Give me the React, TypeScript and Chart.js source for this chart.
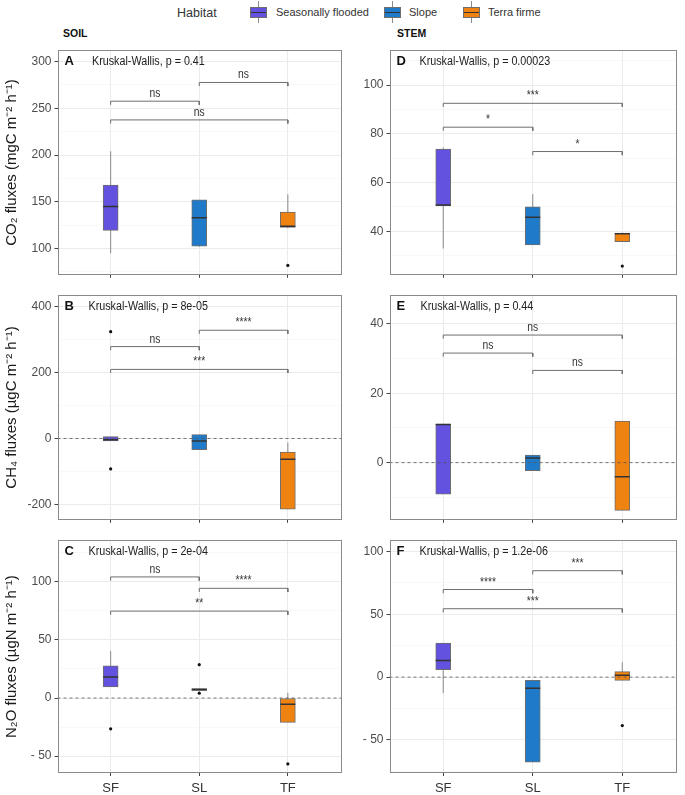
import React, { useEffect, useRef } from 'react';
import { Chart, registerables } from 'chart.js';
Chart.register(...registerables);

const FONT = '"Liberation Sans", Arial, sans-serif';
const SQUEEZE = 0.86;

const categories = ['SF', 'SL', 'TF'];
const habitats = ['Seasonally flooded', 'Slope', 'Terra firme'];
const habitatColors = ['#6252DF', '#1F7BCA', '#EE8312'];
const bracketPairs = [[0, 1], [1, 2], [0, 2]];

// A – soil CO2 (mgC m-2 h-1)
const soilCo2Min = [95, 102, 122];
const soilCo2Q1 = [119.5, 102.5, 122.5];
const soilCo2Med = [145, 133, 124];
const soilCo2Q3 = [168, 152, 139];
const soilCo2Max = [204, 152, 158];
const soilCo2Out = [[], [], [82]];
const soilCo2BracketY = [257.5, 277.5, 237.5];
const soilCo2BracketLbl = ['ns', 'ns', 'ns'];

// B – soil CH4 (µgC m-2 h-1)
const soilCh4Min = [-7.5, -34, -214];
const soilCh4Q1 = [-7.5, -34, -214];
const soilCh4Med = [-4, -7.5, -63];
const soilCh4Q3 = [5.5, 11.5, -41];
const soilCh4Max = [5.5, 11.5, -12];
const soilCh4Out = [[323, -92], [], []];
const soilCh4BracketY = [278, 327.5, 209];
const soilCh4BracketLbl = ['ns', '****', '***'];

// C – soil N2O (µgN m-2 h-1)
const soilN2oMin = [9.5, 6.4, -21];
const soilN2oQ1 = [9.5, 6.4, -21];
const soilN2oMed = [18.2, 7.5, -5.3];
const soilN2oQ3 = [27.7, 8, 0];
const soilN2oMax = [40.5, 8, 4.5];
const soilN2oOut = [[-26.5], [28.7, 4.2], [-56.7]];
const soilN2oBracketY = [104.2, 94.4, 74.8];
const soilN2oBracketLbl = ['ns', '****', '**'];

// D – stem CO2
const stemCo2Min = [32.9, 34.4, 35.7];
const stemCo2Q1 = [50.4, 34.4, 35.7];
const stemCo2Med = [50.8, 45.7, 39];
const stemCo2Q3 = [73.7, 50, 39.2];
const stemCo2Max = [74.3, 55.2, 39.4];
const stemCo2Out = [[], [], [25.7]];
const stemCo2BracketY = [82.7, 72.7, 92.5];
const stemCo2BracketLbl = ['*', '*', '***'];

// E – stem CH4
const stemCh4Min = [-9.1, -2.3, -13.8];
const stemCh4Q1 = [-9.1, -2.3, -13.8];
const stemCh4Med = [11, 1.3, -4.1];
const stemCh4Q3 = [11.1, 2.2, 12];
const stemCh4Max = [11.1, 2.2, 12];
const stemCh4Out = [[], [], []];
const stemCh4BracketY = [31.6, 26.6, 36.8];
const stemCh4BracketLbl = ['ns', 'ns', 'ns'];

// F – stem N2O
const stemN2oMin = [-12.7, -67.8, -2.6];
const stemN2oQ1 = [5.9, -67.8, -2.6];
const stemN2oMed = [13.2, -8.8, 1.5];
const stemN2oQ3 = [27.2, -2.6, 4.4];
const stemN2oMax = [27.2, -2.6, 11.9];
const stemN2oOut = [[], [], [-38.6]];
const stemN2oBracketY = [69.8, 84.8, 54.5];
const stemN2oBracketLbl = ['****', '***', '***'];

const panels = [
  { letter: 'A', kw: '0.41', col: 0, row: 0, title: 'CO\u2082 fluxes (mgC m\u207B\u00B2 h\u207B\u00B9)', yMin: 72, yMax: 312, step: 25, labelStep: 50, zero: false, minusSpace: false, kwOffset: 34.5,
    min: soilCo2Min, q1: soilCo2Q1, med: soilCo2Med, q3: soilCo2Q3, max: soilCo2Max, out: soilCo2Out, by: soilCo2BracketY, bl: soilCo2BracketLbl },
  { letter: 'B', kw: '8e-05', col: 0, row: 1, title: 'CH\u2084 fluxes (\u00B5gC m\u207B\u00B2 h\u207B\u00B9)', yMin: -246, yMax: 433.5, step: 100, labelStep: 200, zero: true, minusSpace: false, kwOffset: 31,
    min: soilCh4Min, q1: soilCh4Q1, med: soilCh4Med, q3: soilCh4Q3, max: soilCh4Max, out: soilCh4Out, by: soilCh4BracketY, bl: soilCh4BracketLbl },
  { letter: 'C', kw: '2e-04', col: 0, row: 2, title: 'N\u2082O fluxes (\u00B5gN m\u207B\u00B2 h\u207B\u00B9)', yMin: -64.5, yMax: 135.8, step: 25, labelStep: 50, zero: true, minusSpace: true, kwOffset: 31,
    min: soilN2oMin, q1: soilN2oQ1, med: soilN2oMed, q3: soilN2oQ3, max: soilN2oMax, out: soilN2oOut, by: soilN2oBracketY, bl: soilN2oBracketLbl },
  { letter: 'D', kw: '0.00023', col: 1, row: 0, title: '', yMin: 22.1, yMax: 114.3, step: 10, labelStep: 20, zero: false, minusSpace: false, kwOffset: 30,
    min: stemCo2Min, q1: stemCo2Q1, med: stemCo2Med, q3: stemCo2Q3, max: stemCo2Max, out: stemCo2Out, by: stemCo2BracketY, bl: stemCo2BracketLbl },
  { letter: 'E', kw: '0.44', col: 1, row: 1, title: '', yMin: -16.5, yMax: 48.3, step: 10, labelStep: 20, zero: true, minusSpace: false, kwOffset: 31,
    min: stemCh4Min, q1: stemCh4Q1, med: stemCh4Med, q3: stemCh4Q3, max: stemCh4Max, out: stemCh4Out, by: stemCh4BracketY, bl: stemCh4BracketLbl },
  { letter: 'F', kw: '1.2e-06', col: 1, row: 2, title: '', yMin: -76.4, yMax: 109.1, step: 25, labelStep: 50, zero: true, minusSpace: true, kwOffset: 30,
    min: stemN2oMin, q1: stemN2oQ1, med: stemN2oMed, q3: stemN2oQ3, max: stemN2oMax, out: stemN2oOut, by: stemN2oBracketY, bl: stemN2oBracketLbl },
];

const colLeft = [0, 350];
const colWidth = [350, 335];
const rowTop = [40, 285, 530];
const rowHeight = [245, 245, 265];

function isMajor(v: number, labelStep: number) {
  const r = v / labelStep;
  return Math.abs(r - Math.round(r)) < 1e-6;
}

function Panel({ p }: { p: any }) {
  const ref = useRef<HTMLCanvasElement>(null);
  useEffect(() => {
    const canvas = ref.current!;
    const isLeft = p.col === 0;
    const isBottom = p.row === 2;
    const yAxisW = isLeft ? 57.5 : 39.5;
    const xAxisH = isBottom ? 22 : 4;
    const tip = (p.yMax - p.yMin) * 0.016;
    const datasets: any[] = [];
    categories.forEach((c, i) => {
      datasets.push({ type: 'line', data: [{ x: i, y: p.min[i] }, { x: i, y: p.max[i] }], borderColor: '#8a8a8a', borderWidth: 1, pointRadius: 0, order: 6 });
    });
    datasets.push({
      type: 'bar', label: 'box',
      data: categories.map((c, i) => ({ x: i, y: [p.q1[i], p.q3[i]] })),
      backgroundColor: habitatColors, borderColor: '#6e6e6e', borderWidth: 1, borderSkipped: false,
      barThickness: 15, grouped: false, order: 5,
    });
    datasets.push({
      type: 'scatter', data: categories.map((c, i) => ({ x: i, y: p.med[i] })),
      pointStyle: 'line', pointRadius: 7.5, borderColor: '#333', pointBorderColor: '#333', borderWidth: 1.5, pointBorderWidth: 1.5, order: 4,
    });
    const outs: any[] = [];
    p.out.forEach((arr: number[], i: number) => arr.forEach((v) => outs.push({ x: i, y: v })));
    datasets.push({ type: 'scatter', data: outs, pointRadius: 1.6, pointBackgroundColor: '#111', backgroundColor: '#111', pointBorderWidth: 0, borderWidth: 0, order: 3 });
    if (p.zero) {
      datasets.push({ type: 'line', data: [{ x: -0.6, y: 0 }, { x: 2.6, y: 0 }], borderColor: '#555', borderWidth: 0.8, borderDash: [3, 3], pointRadius: 0, order: 2 });
    }
    bracketPairs.forEach(([a, b], k) => {
      const by = p.by[k];
      datasets.push({ type: 'line', data: [{ x: a, y: by - tip }, { x: a, y: by }, { x: b, y: by }, { x: b, y: by - tip }], borderColor: '#6e6e6e', borderWidth: 1, pointRadius: 0, order: 1 });
    });

    const yTicks: number[] = [];
    for (let v = Math.ceil(p.yMin / p.step) * p.step; v <= p.yMax + 1e-9; v += p.step) yTicks.push(v);

    const overlay = {
      id: 'overlay',
      afterDraw(chart: any) {
        const { ctx, chartArea } = chart;
        const { left, top, right, bottom } = chartArea;
        const x = chart.scales.x, y = chart.scales.y;
        ctx.save();
        ctx.strokeStyle = '#8a8a8a';
        ctx.lineWidth = 1;
        ctx.strokeRect(Math.round(left) + 0.5, Math.round(top) + 0.5, Math.round(right - left) - 1, Math.round(bottom - top) - 1);
        ctx.fillStyle = '#111';
        ctx.textBaseline = 'middle';
        ctx.textAlign = 'left';
        ctx.font = `bold 13px ${FONT}`;
        ctx.fillText(p.letter, left + 7, top + 11.5);
        ctx.font = `12.5px ${FONT}`;
        ctx.fillStyle = '#222';
        const kwText = `Kruskal-Wallis, p = ${p.kw}`;
        ctx.fillText(kwText, left + p.kwOffset, top + 11.5, ctx.measureText(kwText).width * SQUEEZE);
        ctx.textAlign = 'center';
        ctx.textBaseline = 'alphabetic';
        ctx.font = `12px ${FONT}`;
        ctx.fillStyle = '#333';
        bracketPairs.forEach(([a, b], k) => {
          const cx = (x.getPixelForValue(a) + x.getPixelForValue(b)) / 2;
          const cy = y.getPixelForValue(p.by[k]) - 4;
          const t = p.bl[k];
          ctx.fillText(t, cx, cy, ctx.measureText(t).width * SQUEEZE);
        });
        ctx.restore();
      },
    };

    const chart = new Chart(canvas, {
      type: 'bar',
      data: { datasets },
      plugins: [overlay],
      options: {
        responsive: false,
        animation: false,
        events: [],
        layout: { padding: { top: 4, right: isLeft ? 3 : 2, left: 0, bottom: 0 } },
        plugins: { legend: { display: false }, tooltip: { enabled: false } },
        scales: {
          x: {
            type: 'linear', min: -0.6, max: 2.6, offset: false,
            grid: { offset: false, color: '#EBEBEB', lineWidth: 1, tickColor: '#444', tickLength: 3, drawTicks: true },
            border: { display: false },
            afterBuildTicks: (s: any) => { s.ticks = categories.map((c, i) => ({ value: i })); },
            ticks: {
              display: isBottom, autoSkip: false, maxRotation: 0, padding: 5, color: '#333',
              font: { family: FONT, size: 13 },
              callback: (v: any) => categories[Math.round(v)] ?? '',
            },
            afterFit: (s: any) => { s.height = xAxisH; },
          },
          y: {
            type: 'linear', min: p.yMin, max: p.yMax, beginAtZero: false,
            grid: {
              color: (c: any) => (c.tick && isMajor(c.tick.value, p.labelStep) ? '#EBEBEB' : '#F3F3F3'),
              lineWidth: (c: any) => (c.tick && isMajor(c.tick.value, p.labelStep) ? 1 : 0.6),
              tickColor: (c: any) => (c.tick && isMajor(c.tick.value, p.labelStep) ? '#444' : 'rgba(0,0,0,0)'),
              tickLength: 3,
            },
            border: { display: false },
            afterBuildTicks: (s: any) => { s.ticks = yTicks.map((v) => ({ value: v })); },
            ticks: {
              autoSkip: false, padding: 3, color: '#4d4d4d', font: { family: FONT, size: 12 },
              callback: (v: any) => {
                if (!isMajor(v, p.labelStep)) return '';
                const n = Math.round(v);
                if (n < 0 && p.minusSpace) return '- ' + Math.abs(n);
                return String(n);
              },
            },
            title: { display: isLeft, text: p.title, color: '#1a1a1a', font: { family: FONT, size: 15 }, padding: { top: 3, bottom: 0 } },
            afterFit: (s: any) => { s.width = yAxisW; },
          },
        },
      } as any,
    } as any);
    return () => chart.destroy();
  }, [p]);
  return (
    <canvas
      ref={ref}
      width={colWidth[p.col]}
      height={rowHeight[p.row]}
      style={{ position: 'absolute', left: colLeft[p.col], top: rowTop[p.row], width: colWidth[p.col], height: rowHeight[p.row] }}
    />
  );
}

const legendKeyLeft = [250, 384, 463];
const legendLabelLeft = [276, 409, 488];

function LegendKey({ i }: { i: number }) {
  const lx = legendKeyLeft[i];
  return (
    <>
      <div style={{ position: 'absolute', left: lx + 8, top: 1, width: 1, height: 22, background: '#8a8a8a' }} />
      <div style={{ position: 'absolute', left: lx, top: 7, width: 15, height: 9, background: habitatColors[i], border: '1px solid #6e6e6e' }} />
      <div style={{ position: 'absolute', left: lx + 1, top: 11.5, width: 15, height: 1.5, background: '#333' }} />
      <div style={{ position: 'absolute', left: legendLabelLeft[i], top: 4, lineHeight: '16px', fontSize: 11, color: '#333', whiteSpace: 'nowrap' }}>{habitats[i]}</div>
    </>
  );
}

export default function App() {
  return (
    <div style={{ position: 'absolute', left: 0, top: 0, width: 685, height: 795, background: '#fff', fontFamily: FONT, overflow: 'hidden' }}>
      <div style={{ position: 'absolute', left: 177, top: 5, lineHeight: '16px', fontSize: 12.5, color: '#333' }}>Habitat</div>
      {habitats.map((h, i) => <LegendKey key={h} i={i} />)}
      <div style={{ position: 'absolute', left: 63, top: 26, lineHeight: '14px', fontSize: 10.5, fontWeight: 'bold', color: '#111' }}>SOIL</div>
      <div style={{ position: 'absolute', left: 397, top: 26, lineHeight: '14px', fontSize: 10.5, fontWeight: 'bold', color: '#111' }}>STEM</div>
      {panels.map((p) => <Panel key={p.letter} p={p} />)}
    </div>
  );
}
